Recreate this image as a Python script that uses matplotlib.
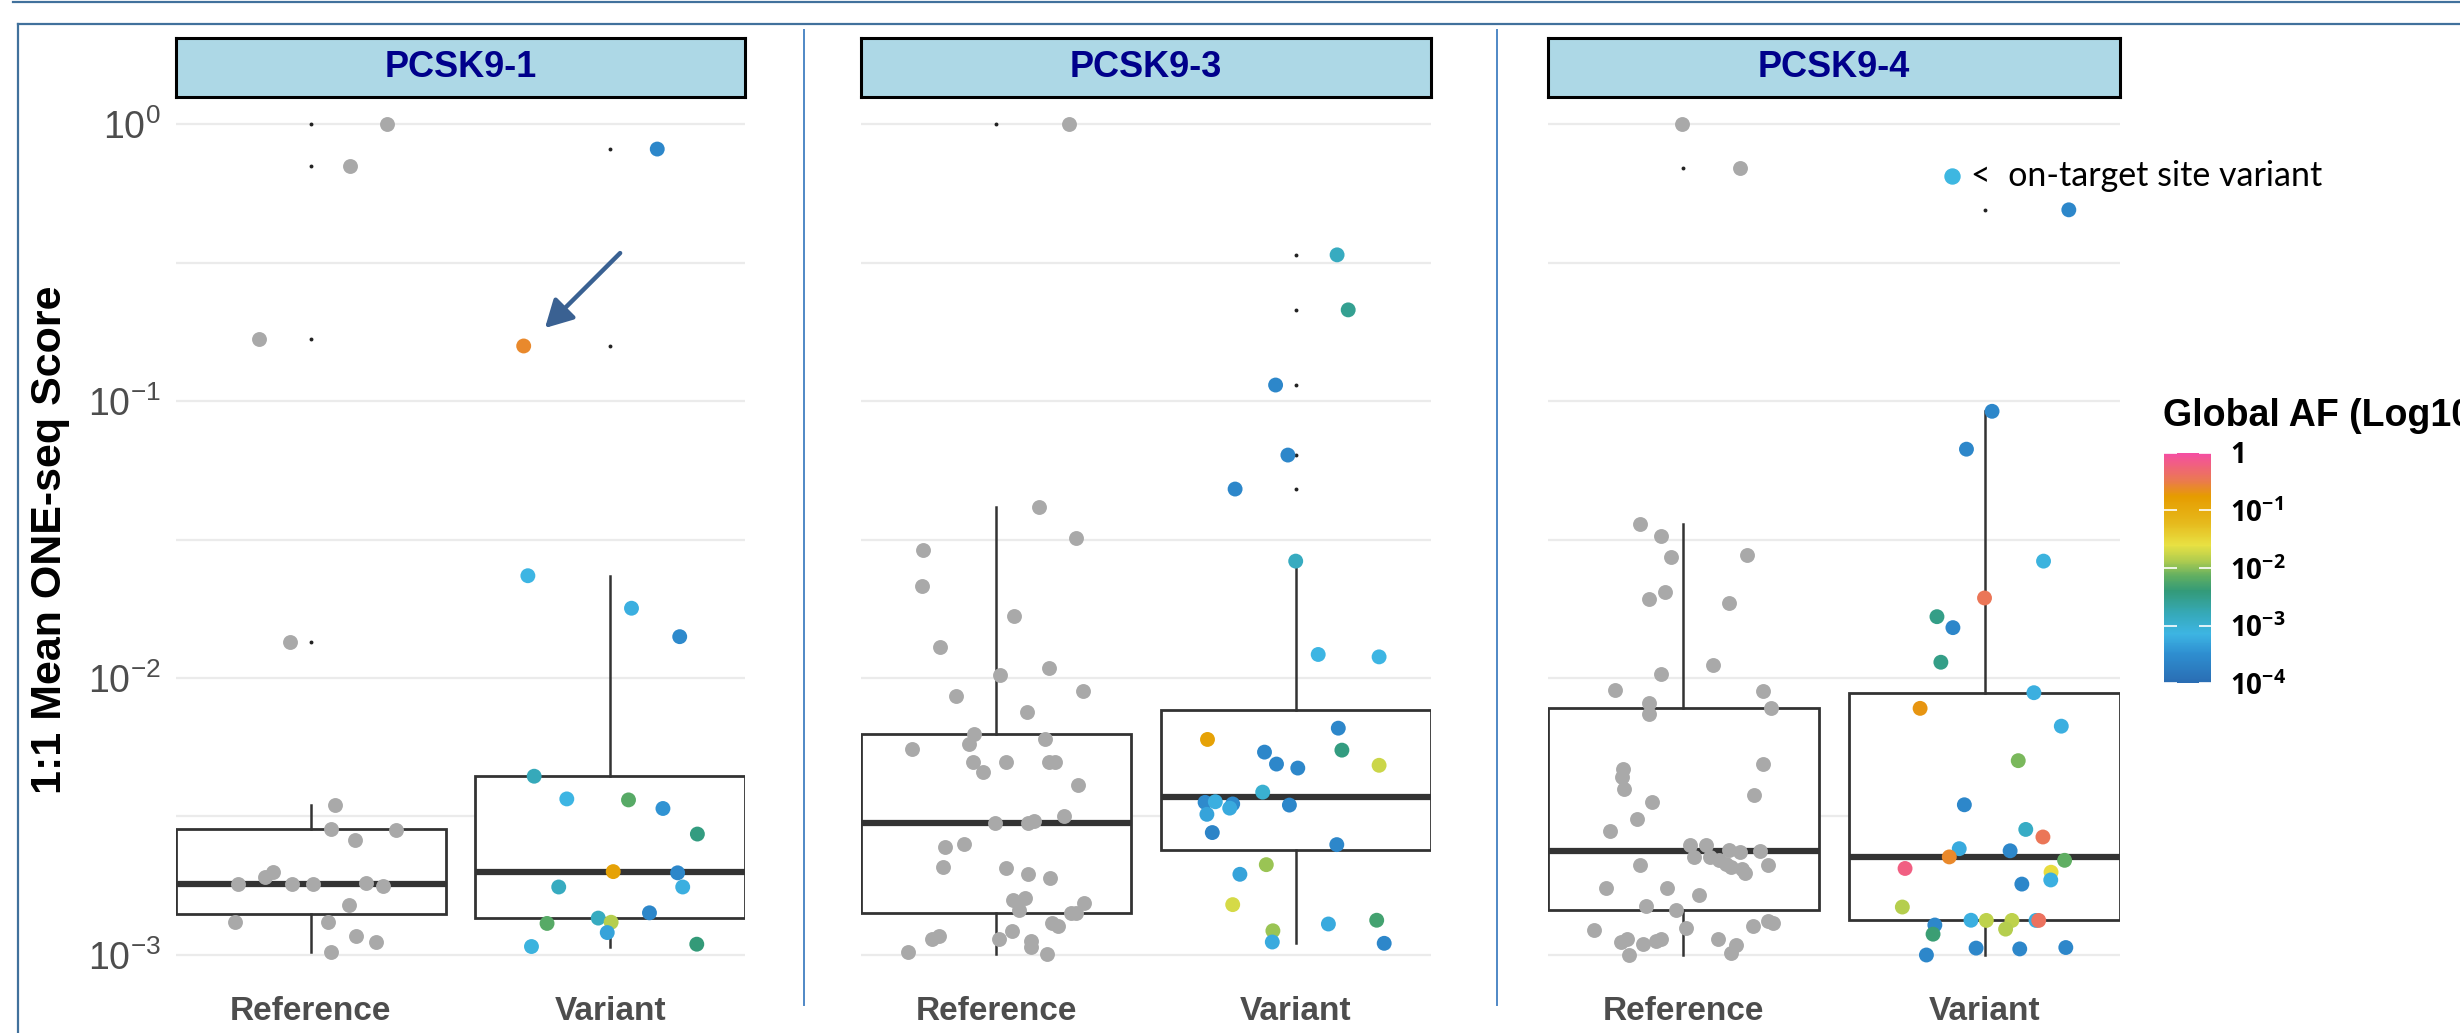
import numpy as np
import matplotlib as mpl
import matplotlib.pyplot as plt
from matplotlib.colors import LinearSegmentedColormap, Normalize
from matplotlib.lines import Line2D
from matplotlib.ticker import NullFormatter

plt.rcParams['font.family'] = ['Liberation Sans', 'DejaVu Sans']
plt.rcParams['mathtext.fontset'] = 'custom'
plt.rcParams['mathtext.rm'] = 'Liberation Sans'
plt.rcParams['mathtext.bf'] = 'Open Sans:bold'

# ---- data ----------------------------------------------------------------
guides = ['PCSK9-1', 'PCSK9-3', 'PCSK9-4']
groups = ['Reference', 'Variant']

# PCSK9-1
p1_ref_y = [1.0, 0.707, 0.1676, 0.01345, 0.003486, 0.00284, 0.00282, 0.0026, 0.0020, 0.00192,
            0.0018, 0.0018, 0.00181, 0.00182, 0.00178, 0.00152, 0.001316, 0.001316, 0.00117,
            0.001114, 0.001028]
p1_ref_x = [1.254, 1.131, 0.828, 0.929, 1.080, 1.068, 1.284, 1.148, 0.875, 0.848, 0.756, 0.937,
            1.009, 1.183, 1.240, 1.127, 0.746, 1.059, 1.152, 1.218, 1.066]
p1_var_y = [0.812, 0.158, 0.0234, 0.01786, 0.0141, 0.00442, 0.00366, 0.00363, 0.00338, 0.002733,
            0.0020, 0.00198, 0.00176, 0.00176, 0.00142, 0.001359, 0.001313, 0.0013, 0.001205,
            0.001073, 0.001094]
p1_var_x = [2.157, 1.711, 1.725, 2.071, 2.232, 1.746, 1.855, 2.061, 2.176, 2.291, 2.010, 2.225,
            1.828, 2.242, 2.131, 1.960, 2.003, 1.789, 1.990, 1.737, 2.289]
p1_var_af = [-3.6, -0.6, -3.15, -3.2, -3.55, -2.8, -3.15, -2.2, -3.45, -2.45, -0.85, -3.6, -2.85,
             -3.2, -3.6, -2.85, -1.85, -2.2, -3.3, -3.1, -2.4]

# PCSK9-3
p2_ref_y = [1.0, 0.0416, 0.0319, 0.0291, 0.02143, 0.01675, 0.01298, 0.01086, 0.01028, 0.00863,
            0.009, 0.00753, 0.00626, 0.00579, 0.006, 0.00555, 0.00498, 0.00498, 0.00498, 0.00498,
            0.004575, 0.0041, 0.003177, 0.002985, 0.002985, 0.003034, 0.002449, 0.002518, 0.00207,
            0.002064, 0.001968, 0.001897, 0.001574, 0.00161, 0.00145, 0.001547, 0.00142, 0.001415,
            0.0013, 0.001272, 0.00117, 0.001146, 0.001217, 0.001146, 0.001123, 0.001067, 0.001029,
            0.001009]
p2_ref_x = [1.242, 1.144, 1.267, 0.758, 0.754, 1.061, 0.812, 1.177, 1.013, 0.866, 1.289, 1.102,
            0.927, 0.911, 1.163, 0.720, 0.924, 1.034, 1.177, 1.197, 0.958, 1.274, 1.226, 0.997,
            1.107, 1.126, 0.829, 0.892, 0.823, 1.034, 1.108, 1.180, 1.056, 1.098, 1.076, 1.292,
            1.249, 1.267, 1.188, 1.208, 0.810, 0.786, 1.052, 1.009, 1.117, 1.116, 0.705, 1.171]
p2_var_y = [0.337, 0.2133, 0.1142, 0.0638, 0.0481, 0.02642, 0.01216, 0.01192, 0.00659, 0.006,
            0.0054, 0.00549, 0.00489, 0.00473, 0.00484, 0.003873, 0.003557, 0.003575, 0.00351,
            0.00339, 0.00322, 0.003477, 0.002767, 0.002503, 0.002119, 0.001956, 0.00152, 0.001294,
            0.001335, 0.001223, 0.001114, 0.001102]
p2_var_x = [2.137, 2.174, 1.932, 1.973, 1.797, 1.999, 2.074, 2.277, 2.141, 1.705, 1.895, 2.153,
            1.935, 2.006, 2.277, 1.889, 1.697, 1.731, 1.789, 1.779, 1.703, 1.978, 1.721, 2.136,
            1.901, 1.813, 1.789, 2.108, 2.269, 1.923, 1.921, 2.294]
p2_var_af = [-2.85, -2.55, -3.6, -3.6, -3.6, -2.85, -3.15, -3.15, -3.6, -0.85, -3.6, -2.45, -3.6,
             -3.6, -1.75, -3.0, -3.55, -3.2, -3.55, -3.25, -3.3, -3.6, -3.65, -3.6, -1.95, -3.3,
             -1.7, -3.25, -2.3, -1.95, -3.25, -3.6]

# PCSK9-4
p3_ref_y = [1.0, 0.695, 0.0360, 0.0326, 0.02734, 0.0277, 0.02048, 0.0193, 0.01866, 0.01114,
            0.01032, 0.00908, 0.00896, 0.00809, 0.0078, 0.00743, 0.0047, 0.0044, 0.00396, 0.00488,
            0.003767, 0.003577, 0.003087, 0.002795, 0.002495, 0.002495, 0.002393, 0.00236,
            0.002378, 0.002249, 0.00226, 0.002197, 0.002136, 0.002077, 0.002047, 0.00198,
            0.002105, 0.002117, 0.00174, 0.00174, 0.001646, 0.0015, 0.00145, 0.001236, 0.001254,
            0.001276, 0.00133, 0.0013, 0.001146, 0.001114, 0.001098, 0.00112, 0.001146, 0.001146,
            0.001083, 0.001017, 0.001]
p3_ref_x = [0.996, 1.189, 0.856, 0.927, 0.958, 1.210, 0.937, 0.884, 1.150, 1.098, 0.927, 0.773,
            1.263, 0.884, 1.290, 0.885, 0.800, 0.797, 0.803, 1.264, 1.235, 0.897, 0.846, 0.755,
            1.021, 1.076, 1.151, 1.189, 1.253, 1.034, 1.088, 1.119, 1.140, 1.157, 1.193, 1.203,
            1.281, 0.856, 0.741, 0.945, 1.052, 0.877, 0.975, 0.703, 1.007, 1.231, 1.280, 1.297,
            0.813, 0.793, 0.864, 0.909, 0.927, 1.116, 1.176, 1.158, 0.818]
p3_var_y = [0.49, 0.0918, 0.067, 0.02642, 0.01945, 0.01665, 0.0152, 0.0114, 0.00885, 0.00777,
            0.0067, 0.00503, 0.003486, 0.00284, 0.002667, 0.00242, 0.002378, 0.00226, 0.002197,
            0.002053, 0.00199, 0.001866, 0.001803, 0.00149, 0.001335, 0.001333, 0.001333,
            0.001333, 0.001333, 0.00124, 0.001283, 0.001189, 0.001059, 0.001052, 0.001064, 0.001]
p3_var_x = [2.280, 2.025, 1.940, 2.196, 2.0, 1.842, 1.895, 1.855, 2.164, 1.786, 2.255, 2.112,
            1.933, 2.137, 2.194, 1.916, 2.085, 1.883, 2.266, 1.736, 2.221, 2.220, 2.124, 1.727,
            1.955, 2.006, 2.091, 2.171, 2.180, 2.070, 1.835, 1.829, 1.972, 2.117, 2.270, 1.807]
p3_var_af = [-3.6, -3.6, -3.6, -3.1, -0.45, -2.5, -3.6, -2.5, -3.2, -0.7, -3.2, -2.05, -3.6, -2.9,
             -0.45, -3.25, -3.6, -0.6, -2.15, -0.2, -1.55, -3.2, -3.6, -1.85, -3.2, -1.8, -1.8,
             -3.2, -0.4, -1.85, -3.6, -2.35, -3.6, -3.6, -3.6, -3.6]

# box statistics (q1, median, q3, lower whisker, upper whisker) per panel: [ref, variant]
box_q1 = [[0.00141, 0.001359], [0.001416, 0.002393], [0.00145, 0.001333]]
box_med = [[0.00181, 0.0020], [0.0030, 0.003733], [0.002372, 0.002267]]
box_q3 = [[0.00284, 0.00442], [0.00626, 0.007644], [0.00777, 0.00885]]
box_lo = [[0.001028, 0.001073], [0.001009, 0.001102], [0.001, 0.001]]
box_hi = [[0.003486, 0.0234], [0.0416, 0.02642], [0.036, 0.0918]]

af_ticks = [-4, -3, -2, -1, 0]
af_labels = [r'$\mathbf{10^{-4}}$', r'$\mathbf{10^{-3}}$', r'$\mathbf{10^{-2}}$',
             r'$\mathbf{10^{-1}}$', r'$\mathbf{1}$']

# colour scale of the Global AF bar
af_nodes = [-4.0, -3.5, -3.15, -2.8, -2.4, -2.15, -1.85, -1.6, -1.2, -0.75, -0.45, 0.0]
af_colors = ['#2A6DB3', '#2E8ED0', '#3DB5E3', '#36A9B9', '#339A78', '#5FAE62', '#B5CE4E',
             '#E8E143', '#E6B81B', '#E69C00', '#EB7755', '#F54EA2']
cmap = LinearSegmentedColormap.from_list(
    'af', [((v + 4) / 4, c) for v, c in zip(af_nodes, af_colors)])
norm = Normalize(-4, 0)

ref_y = [p1_ref_y, p2_ref_y, p3_ref_y]
ref_x = [p1_ref_x, p2_ref_x, p3_ref_x]
var_y = [p1_var_y, p2_var_y, p3_var_y]
var_x = [p1_var_x, p2_var_x, p3_var_x]
var_af = [p1_var_af, p2_var_af, p3_var_af]

# ---- layout (pixels of a 2460x1033 canvas) -------------------------------
W, H = 2460, 1033
panel_left = [176, 861, 1548]
panel_w = [569, 570, 572]
panel_top, panel_bot = 97, 984
strip_top = 38
line_col = '#333333'

fig = plt.figure(figsize=(W / 100, H / 100), dpi=100)

axes = []
for i in range(3):
    ax = fig.add_axes([panel_left[i] / W, 1 - panel_bot / H, panel_w[i] / W,
                       (panel_bot - panel_top) / H])
    axes.append(ax)
    ax.set_yscale('log')

    pts = [ref_y[i], var_y[i]]
    stats = []
    for j in range(2):
        lo, hi = box_lo[i][j], box_hi[i][j]
        stats.append(dict(med=box_med[i][j], q1=box_q1[i][j], q3=box_q3[i][j],
                          whislo=lo, whishi=hi,
                          fliers=[v for v in pts[j] if v > hi * 1.001 or v < lo * 0.999]))
    ax.bxp(stats, positions=[1, 2], widths=0.9, patch_artist=True, showcaps=False,
           manage_ticks=False,
           boxprops=dict(facecolor='white', edgecolor=line_col, lw=2.0),
           medianprops=dict(color=line_col, lw=4.5, solid_capstyle='butt'),
           whiskerprops=dict(color=line_col, lw=1.8),
           flierprops=dict(marker='o', markersize=2.8, markerfacecolor='#222222',
                           markeredgecolor='none'))

    ax.scatter(ref_x[i], ref_y[i], s=115, c='#A9A9A9', linewidths=0, zorder=3)
    ax.scatter(var_x[i], var_y[i], s=115, c=var_af[i], cmap=cmap, norm=norm,
               linewidths=0, zorder=3)

    ax.set_ylim(10 ** -3.1047, 10 ** 0.0975)
    ax.set_xlim(0.55, 2.45)
    ax.set_yticks([1, 0.1, 0.01, 0.001])
    ax.set_yticklabels([r'$10^{0}$', r'$10^{-1}$', r'$10^{-2}$', r'$10^{-3}$'])
    ax.set_yticks([10 ** -0.5, 10 ** -1.5, 10 ** -2.5], minor=True)
    ax.yaxis.set_minor_formatter(NullFormatter())
    ax.grid(True, which='both', axis='y', color='#EBEBEB', lw=1.6)
    ax.set_axisbelow(True)
    for s in ax.spines.values():
        s.set_visible(False)
    ax.tick_params(which='both', length=0)
    ax.tick_params(axis='y', pad=11, labelsize=27, labelcolor='#4D4D4D', labelleft=(i == 0))
    ax.tick_params(axis='x', pad=9)
    ax.set_xticks([1, 2])
    ax.set_xticklabels(groups, fontsize=24, fontweight='bold', color='#4D4D4D')

    # facet strip
    sax = fig.add_axes([panel_left[i] / W, 1 - panel_top / H, panel_w[i] / W,
                        (panel_top - strip_top) / H])
    sax.set_facecolor('#ADD8E6')
    sax.set_xticks([])
    sax.set_yticks([])
    for s in sax.spines.values():
        s.set_color('black')
        s.set_linewidth(2.2)
    sax.text(0.5, 0.5, guides[i], ha='center', va='center', fontsize=26,
             fontweight='bold', color='#00008B', transform=sax.transAxes)

# arrow pointing at the orange variant in PCSK9-1
axes[0].annotate('', xy=(1.782, 0.1834), xytext=(2.033, 0.342),
                 arrowprops=dict(arrowstyle='-|>,head_length=0.55,head_width=0.3',
                                 color='#3A6192', lw=3.2, mutation_scale=30,
                                 shrinkA=0, shrinkB=0))

fig.text(50 / W, 1 - 540 / H, '1:1 Mean ONE-seq Score', rotation=90, fontsize=31,
         fontweight='bold', ha='center', va='center')

# colour bar
cax = fig.add_axes([2164 / W, 1 - 683 / H, 47 / W, 230 / H])
cb = mpl.colorbar.ColorbarBase(cax, cmap=cmap, norm=norm, orientation='vertical')
cb.outline.set_visible(False)
cb.set_ticks(af_ticks)
cb.set_ticklabels(af_labels)
cax.minorticks_off()
cax.tick_params(which='major', direction='in', length=9, width=1.2, color='white',
                left=True, right=True, labelleft=False, labelright=True,
                labelsize=20, labelcolor='black', pad=14)
fig.text(2163 / W, 1 - 416 / H, 'Global AF (Log10)', fontsize=27, fontweight='bold',
         ha='left', va='center')

# on-target note
fig.add_artist(Line2D([1952 / W], [1 - 176 / H], marker='o', markersize=10.8,
                      color='#3DB7E1', linestyle='none'))
fig.text(1971 / W, 1 - 176 / H, '<  on-target site variant', fontsize=24.5,
         family=['Lato', 'DejaVu Sans'], ha='left', va='center')

# slide frame lines
frame = '#41719C'
fig.add_artist(Line2D([13 / W, 1], [1 - 2 / H, 1 - 2 / H], color=frame, lw=1.6))
fig.add_artist(Line2D([18 / W, 1], [1 - 24 / H, 1 - 24 / H], color=frame, lw=1.6))
fig.add_artist(Line2D([18 / W, 18 / W], [1 - 24 / H, 0], color=frame, lw=1.6))
for xs in [804, 1497]:
    fig.add_artist(Line2D([xs / W, xs / W], [1 - 30 / H, 1 - 1005 / H], color='#4F88C6', lw=1.4))

fig.savefig('out.png', dpi=100)
